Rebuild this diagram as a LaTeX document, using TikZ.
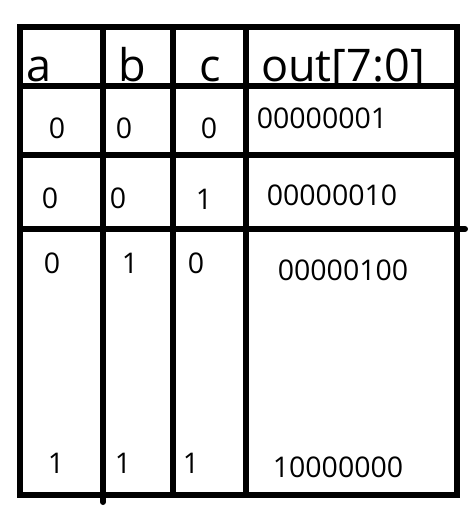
\documentclass[tikz,border=0pt]{standalone}
\usepackage{fontspec}
\setmainfont{Open Sans}
\usepackage{tikz}

\begin{document}
\begin{tikzpicture}[x=1pt, y=-1pt,
  grid/.style={line width=6pt},
  hd/.style={anchor=base, inner sep=0pt, font=\fontsize{45}{45}\selectfont},
  val/.style={anchor=base, inner sep=0pt, font=\fontsize{28.5}{28.5}\selectfont}]
\useasboundingbox (0,0) rectangle (467,531);
% table frame and rules
\draw[grid] (20,27) rectangle (457,495);
\draw[grid, line cap=round] (103,27) -- (103,502);
\draw[grid] (173,27) -- (173,495);
\draw[grid] (246,27) -- (246,495);
\draw[grid] (20,86) -- (457,86);
\draw[grid] (20,155) -- (457,155);
\draw[grid, line cap=round] (20,229) -- (465,229);

% header
\node[hd] (ha) at (39,81) {a};
\node[hd] (hb) at (132,81) {b};
\node[hd] (hc) at (210,81) {c};
\node[hd] (hout) at (343,81) {out[7:0]};

% rows
\node[val] (a1) at (57,138) {0};
\node[val] (b1) at (124,138) {0};
\node[val] (c1) at (209,138) {0};
\node[val] (out1) at (322,128) {00000001};

\node[val] (a2) at (50,208) {0};
\node[val] (b2) at (118,208) {0};
\node[val] (c2) at (204,209) {1};
\node[val] (out2) at (332,205) {00000010};

\node[val] (a3) at (52,273) {0};
\node[val] (b3) at (130,273) {1};
\node[val] (c3) at (196,273) {0};
\node[val] (out3) at (343,280) {00000100};

\node[val] (a4) at (56,473) {1};
\node[val] (b4) at (123,473) {1};
\node[val] (c4) at (191,473) {1};
\node[val] (out4) at (338,477) {10000000};
\end{tikzpicture}
\end{document}
